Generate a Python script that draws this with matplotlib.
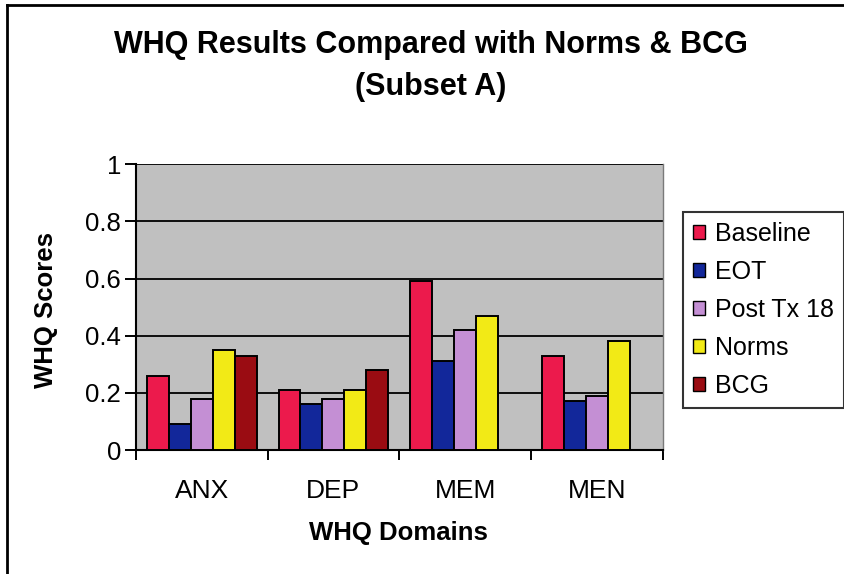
import matplotlib
matplotlib.use("Agg")
import matplotlib.pyplot as plt
from matplotlib.lines import Line2D
import numpy as np

# WHQ domain scores by assessment point
domains = ["ANX", "DEP", "MEM", "MEN"]
baseline = [0.26, 0.21, 0.59, 0.33]
eot = [0.09, 0.16, 0.31, 0.17]
post_tx_18 = [0.18, 0.18, 0.42, 0.19]
norms = [0.35, 0.21, 0.47, 0.38]
bcg = [0.33, 0.28, np.nan, np.nan]

series_names = ["Baseline", "EOT", "Post Tx 18", "Norms", "BCG"]
series_values = [baseline, eot, post_tx_18, norms, bcg]
series_colors = ["#ec1a4c", "#12279a", "#c48fd4", "#f2ea16", "#9a0c12"]

y_ticks = [0, 0.2, 0.4, 0.6, 0.8, 1]
y_tick_labels = ["0", "0.2", "0.4", "0.6", "0.8", "1"]

plt.rcParams["font.family"] = ["Liberation Sans", "DejaVu Sans"]

fig = plt.figure(figsize=(8.45, 5.74), dpi=100)
fig.patch.set_facecolor("white")

ax = fig.add_axes([0.1606, 0.216, 0.624, 0.498])
ax.set_facecolor("#c0c0c0")

n = len(series_names)
bar_w = 1.0 / (n + 1)
x = np.arange(len(domains))
for i, (name, vals, col) in enumerate(zip(series_names, series_values, series_colors)):
    offs = (i - (n - 1) / 2) * bar_w
    ax.bar(x + offs, vals, width=bar_w, color=col, edgecolor="black",
           linewidth=1.4, label=name, zorder=3)

ax.set_xlim(-0.5, len(domains) - 0.5)
ax.set_ylim(0, 1)

ax.set_yticks(y_ticks)
ax.set_yticklabels(y_tick_labels, fontsize=18.5)
ax.yaxis.grid(True, color="black", linewidth=1.3, zorder=1)
ax.set_axisbelow(True)

# category boundaries carry the tick marks, names sit between them
ax.set_xticks(np.arange(len(domains) + 1) - 0.5)
ax.set_xticklabels([])
ax.set_xticks(x, minor=True)
ax.set_xticklabels(domains, minor=True, fontsize=19)
ax.tick_params(axis="x", which="major", direction="out", length=7.5, width=1.4)
ax.tick_params(axis="x", which="minor", length=0, pad=21)
ax.tick_params(axis="y", direction="out", length=8, width=1.4, pad=2.5)

for side in ("left", "bottom"):
    ax.spines[side].set_color("black")
    ax.spines[side].set_linewidth(1.5)
ax.spines["top"].set_visible(False)
ax.spines["right"].set_color("#7a7a7a")
ax.spines["right"].set_linewidth(1.0)

fig.text(0.0542, 0.4605, "WHQ Scores", rotation=90, fontsize=18.5,
         fontweight="bold", ha="center", va="center")
fig.text(0.471, 0.0714, "WHQ Domains", fontsize=18.5, fontweight="bold",
         ha="center", va="center")

fig.text(0.510, 0.921, "WHQ Results Compared with Norms & BCG", fontsize=22,
         fontweight="bold", ha="center", va="center")
fig.text(0.510, 0.848, "(Subset A)", fontsize=22, fontweight="bold",
         ha="center", va="center")

leg = fig.legend(loc="upper left", bbox_to_anchor=(0.808, 0.631),
                 bbox_transform=fig.transFigure, fontsize=18,
                 frameon=True, fancybox=False, shadow=False,
                 handlelength=0.5, handleheight=0.5, handletextpad=0.4,
                 labelspacing=0.56, borderpad=0.4, borderaxespad=0)
leg.get_frame().set_edgecolor("black")
leg.get_frame().set_linewidth(1.5)
for h in leg.legend_handles:
    h.set_linewidth(1.0)

# page frame around the chart
fig.add_artist(Line2D([0.008, 1.0], [0.991, 0.991], color="black", linewidth=2,
                      transform=fig.transFigure))
fig.add_artist(Line2D([0.008, 0.008], [0.0, 0.991], color="black", linewidth=2,
                      transform=fig.transFigure))

fig.savefig("out.png", dpi=100)
